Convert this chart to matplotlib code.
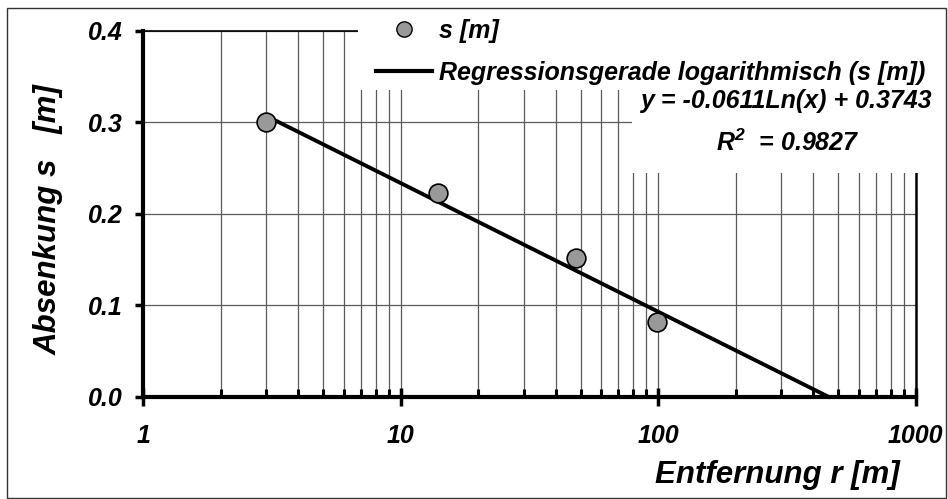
import numpy as np
import matplotlib.pyplot as plt
from matplotlib.patches import Rectangle
from matplotlib.lines import Line2D
from matplotlib.ticker import LogLocator, NullFormatter, FixedLocator

plt.rcParams['font.family'] = ['Liberation Sans', 'DejaVu Sans']
plt.rcParams['font.weight'] = 'bold'
plt.rcParams['font.style'] = 'italic'
plt.rcParams['mathtext.fontset'] = 'custom'
plt.rcParams['mathtext.it'] = 'Liberation Sans:bold:italic'
plt.rcParams['mathtext.rm'] = 'Liberation Sans:bold:italic'

# Messwerte: Entfernung r [m] und Absenkung s [m]
r_mess = [3, 14, 48, 99]
s_mess = [0.301, 0.223, 0.152, 0.082]

# logarithmische Regression s = a*ln(r) + b
a_reg = -0.0611
b_reg = 0.3743
r2_reg = 0.9827

x_ticks = [1, 10, 100, 1000]
x_ticklabels = ['1', '10', '100', '1000']
y_ticks = [0.0, 0.1, 0.2, 0.3, 0.4]
y_ticklabels = ['0.0', '0.1', '0.2', '0.3', '0.4']

W, H = 948, 499
fig = plt.figure(figsize=(W / 100, H / 100), dpi=100)

def fx(px):
    return px / W

def fy(py):
    return 1 - py / H

ax = fig.add_axes([fx(143.3), fy(396.7), fx(915.7) - fx(143.3), fy(31) - fy(396.7)])
ax.set_xscale('log')
ax.set_xlim(1, 1000)
ax.set_ylim(0, 0.4)
ax.set_axisbelow(True)

# Regressionskurve bis zum Nulldurchgang
r0 = np.exp(-b_reg / a_reg)
r_fit = np.logspace(np.log10(r_mess[0]), np.log10(r0), 200)
s_fit = a_reg * np.log(r_fit) + b_reg
ax.plot(r_fit, s_fit, color='black', lw=2.8, zorder=4, clip_on=False)
ax.plot(r_mess, s_mess, 'o', ms=13.5, mfc='#999999', mec='black', mew=1.2, zorder=5)

# Gitter
ax.xaxis.set_major_locator(FixedLocator(x_ticks))
ax.xaxis.set_minor_locator(LogLocator(base=10, subs=np.arange(2, 10)))
ax.xaxis.set_minor_formatter(NullFormatter())
ax.set_xticks(x_ticks)
ax.set_xticklabels(x_ticklabels)
ax.set_yticks(y_ticks)
ax.set_yticklabels(y_ticklabels)
ax.grid(True, which='both', axis='x', color='#5a5a5a', lw=0.9)
ax.grid(True, which='major', axis='y', color='#5a5a5a', lw=0.9)

for side in ['left', 'bottom']:
    ax.spines[side].set_linewidth(3)
ax.spines['top'].set_linewidth(1.2)
ax.spines['right'].set_linewidth(1.8)

ax.tick_params(axis='x', which='major', direction='inout', length=13, width=2.5,
               pad=13, labelsize=18)
ax.tick_params(axis='x', which='minor', direction='in', length=6, width=2.2)
ax.tick_params(axis='y', which='major', direction='out', length=6, width=2.5,
               pad=9, labelsize=18)

# weisse Flaechen hinter Legende und Gleichung
ax.add_patch(Rectangle((fx(358), fy(90)), fx(947) - fx(358), fy(9) - fy(90),
                       transform=fig.transFigure, facecolor='white', edgecolor='none',
                       zorder=3, clip_on=False))
ax.add_patch(Rectangle((fx(632), fy(173)), fx(947) - fx(632), fy(90) - fy(173),
                       transform=fig.transFigure, facecolor='white', edgecolor='none',
                       zorder=3, clip_on=False))

handles = [Line2D([], [], ls='none', marker='o', ms=11, mfc='#999999', mec='black', mew=1.0),
           Line2D([], [], color='black', lw=3)]
leg = ax.legend(handles, ['s [m]', 'Regressionsgerade logarithmisch (s [m])'],
                loc='upper left', bbox_to_anchor=(fx(376), fy(19)),
                bbox_transform=fig.transFigure, frameon=False, fontsize=18,
                handlelength=2.25, handletextpad=0.28, labelspacing=0.72,
                borderaxespad=0, borderpad=0)
leg.set_zorder(6)

fig.text(fx(932), fy(101), 'y = %.4fLn(x) + %.4f' % (a_reg, b_reg), ha='right', va='center',
         fontsize=18)
fig.text(fx(788), fy(143), 'R$^{2}$  = %.4f' % r2_reg, ha='center', va='center', fontsize=18)

fig.text(fx(49), fy(220), 'Absenkung s   [m]', rotation=90, ha='center', va='center',
         fontsize=22.5)
fig.text(fx(900), fy(475), 'Entfernung r [m]', ha='right', va='center', fontsize=22.5)

# Rahmen um die Grafik
fig.add_artist(Rectangle((fx(7), fy(498)), fx(946) - fx(7), fy(8) - fy(498),
                         transform=fig.transFigure, facecolor='none',
                         edgecolor='#333333', lw=1))

fig.savefig('out.png', dpi=100)
